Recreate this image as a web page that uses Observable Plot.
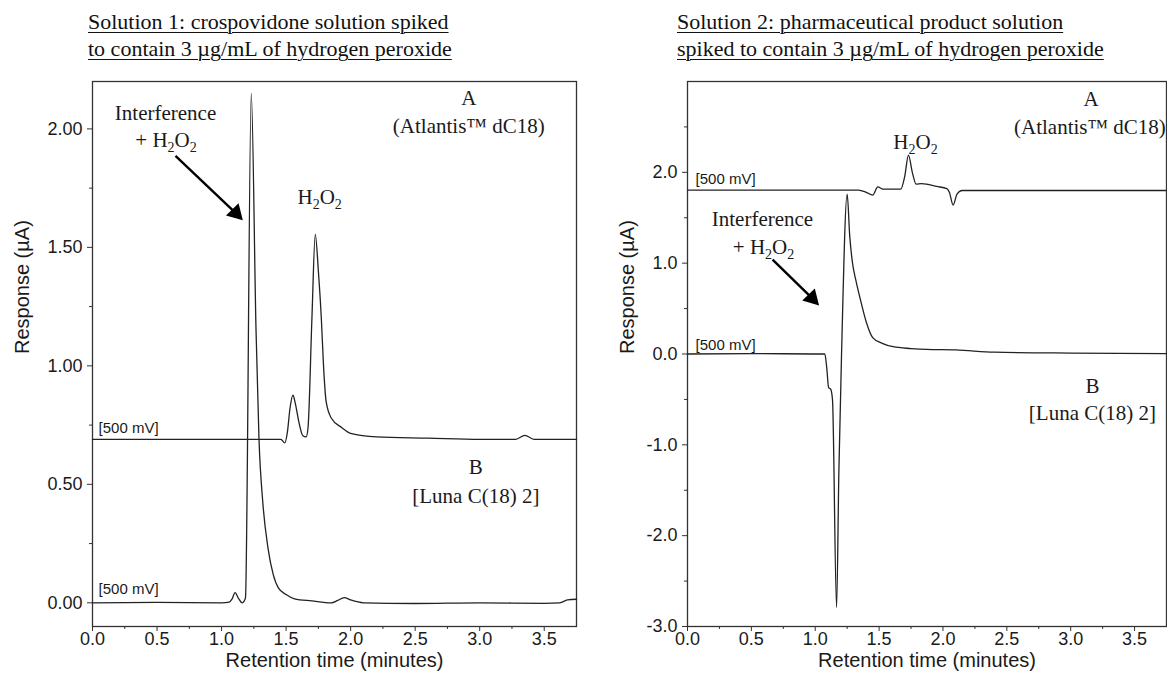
<!DOCTYPE html>
<html>
<head>
<meta charset="utf-8">
<script src="https://cdn.jsdelivr.net/npm/d3@7"></script>
<script src="https://cdn.jsdelivr.net/npm/@observablehq/plot@0.6"></script>
<style>
  html, body { margin: 0; padding: 0; background: #fff; }
  #wrap { position: relative; width: 1167px; height: 681px; overflow: hidden; background: #fff; }
  .panel { position: absolute; top: 0; }
  .title { height: 70px; box-sizing: border-box; font-family: "Liberation Serif", "Times New Roman", serif; font-size: 22px; line-height: 27px; color: #111; text-decoration: underline; text-underline-offset: 3px; text-decoration-thickness: 1px; padding-top: 8px; white-space: nowrap; }
  .panel svg { display: block; }
</style>
</head>
<body>
<div id="wrap">
  <div class="panel" id="p1" style="left:0px;width:583px;">
    <div class="title" style="padding-left:88px;">Solution 1: crospovidone solution spiked<br>to contain 3 µg/mL of hydrogen peroxide</div>
  </div>
  <div class="panel" id="p2" style="left:583px;width:584px;">
    <div class="title" style="padding-left:94px;">Solution 2: pharmaceutical product solution<br>spiked to contain 3 µg/mL of hydrogen peroxide</div>
  </div>
</div>
<script>
// ---------- Data: Solution 1 (left) ----------
const s1A_time = [0, 1.46, 1.49, 1.51, 1.53, 1.553, 1.57, 1.60, 1.63, 1.655, 1.67, 1.70, 1.726, 1.75, 1.773, 1.79, 1.81, 1.85, 1.93, 2.0, 2.2, 2.6, 3.0, 3.28, 3.35, 3.42, 3.75];
const s1A_resp = [0.69, 0.69, 0.675, 0.72, 0.82, 0.876, 0.845, 0.76, 0.705, 0.70, 0.74, 1.2, 1.555, 1.40, 1.2, 1.0, 0.85, 0.78, 0.74, 0.715, 0.70, 0.695, 0.69, 0.69, 0.707, 0.69, 0.69];
const s1B_time = [0, 0.5, 1.0, 1.06, 1.08, 1.105, 1.13, 1.16, 1.185, 1.23, 1.267, 1.29, 1.32, 1.36, 1.40, 1.44, 1.50, 1.565, 1.7, 1.85, 1.90, 1.95, 2.0, 2.1, 2.5, 3.0, 3.5, 3.62, 3.68, 3.75];
const s1B_resp = [0, 0.002, 0, 0.003, 0.015, 0.043, 0.02, 0.0, 0.02, 2.15, 1.15, 0.69, 0.42, 0.23, 0.12, 0.063, 0.035, 0.017, 0.008, 0.0, 0.01, 0.022, 0.012, 0.0, -0.003, 0.0, -0.002, 0.0, 0.012, 0.015];

// ---------- Data: Solution 2 (right) ----------
const s2A_time = [0, 1.0, 1.34, 1.40, 1.45, 1.49, 1.53, 1.60, 1.67, 1.70, 1.73, 1.76, 1.79, 1.83, 1.87, 1.95, 2.03, 2.05, 2.08, 2.11, 2.15, 2.5, 3.0, 3.75];
const s2A_resp = [1.805, 1.805, 1.805, 1.78, 1.75, 1.84, 1.815, 1.815, 1.815, 1.95, 2.19, 2.0, 1.87, 1.875, 1.87, 1.845, 1.82, 1.78, 1.64, 1.76, 1.80, 1.80, 1.80, 1.80];
const s2B_time = [0, 0.5, 1.0, 1.075, 1.09, 1.105, 1.12, 1.135, 1.167, 1.185, 1.206, 1.25, 1.27, 1.29, 1.32, 1.35, 1.40, 1.45, 1.52, 1.61, 1.75, 1.87, 2.1, 2.4, 3.0, 3.75];
const s2B_resp = [0, 0.005, 0.0, 0.0, -0.15, -0.37, -0.385, -0.5, -2.79, -1.3, 0.0, 1.76, 1.3, 1.02, 0.80, 0.62, 0.35, 0.18, 0.12, 0.08, 0.06, 0.05, 0.045, 0.02, 0.01, 0.005];

// ---------- Axis ticks ----------
const xTicks = [0, 0.5, 1.0, 1.5, 2.0, 2.5, 3.0, 3.5];
const xMinorTicks = [0.25, 0.75, 1.25, 1.75, 2.25, 2.75, 3.25];
const y1Ticks = [0, 0.5, 1.0, 1.5, 2.0];
const y1MinorTicks = [0.25, 0.75, 1.25, 1.75];
const y2Ticks = [-3, -2, -1, 0, 1, 2];
const y2MinorTicks = [-2.5, -1.5, -0.5, 0.5, 1.5, 2.5];

// ---------- Annotations (data units) ----------
const s1Serif = [
  {text: "Interference", x: 0.566, y: 2.065},
  {text: "+ H2O2", x: 0.57, y: 1.95},
  {text: "H2O2", x: 1.76, y: 1.71},
  {text: "A", x: 2.915, y: 2.13},
  {text: "(Atlantis™ dC18)", x: 2.915, y: 2.01},
  {text: "B", x: 2.97, y: 0.57},
  {text: "[Luna C(18) 2]", x: 2.97, y: 0.45}
];
const s1Scale = [
  {text: "[500 mV]", x: 0.047, y: 0.738},
  {text: "[500 mV]", x: 0.047, y: 0.059}
];
const s1Arrow = [{x1: 0.643, y1: 1.886, x2: 1.11, y2: 1.645}];

const s2Serif = [
  {text: "Interference", x: 0.587, y: 1.478},
  {text: "+ H2O2", x: 0.595, y: 1.18},
  {text: "H2O2", x: 1.785, y: 2.33},
  {text: "A", x: 3.16, y: 2.80},
  {text: "B", x: 3.17, y: -0.35},
  {text: "[Luna C(18) 2]", x: 3.17, y: -0.65}
];
const s2SerifEnd = [{text: "(Atlantis™ dC18)", x: 3.745, y: 2.50}];
const s2Scale = [
  {text: "[500 mV]", x: 0.063, y: 1.92},
  {text: "[500 mV]", x: 0.063, y: 0.10}
];
const s2Arrow = [{x1: 0.666, y1: 1.04, x2: 0.975, y2: 0.615}];

const xLabel = "Retention time (minutes)";
const yLabel = "Response (µA)";

const toRows = (t, v) => t.map((d, i) => ({t: d, v: v[i]}));

const SERIF = "Liberation Serif, Times New Roman, serif";
const SANS = "Liberation Sans, Arial, sans-serif";
const INK = "#1a1a1a";

function panel({width, marginLeft, marginRight, yDomain, yTicks, yMinor, yFmt, lines, serif, serifEnd, scales, arrows, yLabelDx}) {
  return Plot.plot({
    width, height: 611,
    marginLeft, marginRight, marginTop: 11, marginBottom: 55,
    x: {domain: [0, 3.75]},
    y: {domain: yDomain},
    style: {fontFamily: SANS, fontSize: "18px", color: "#333", background: "white", overflow: "visible"},
    marks: [
      Plot.axisX(xTicks, {tickFormat: d => d.toFixed(1), tickSize: 5, tickPadding: 1, label: null, fontSize: 18, fill: INK}),
      Plot.axisX(xMinorTicks, {tickFormat: () => "", tickSize: 3, label: null}),
      Plot.axisY(yTicks, {tickFormat: yFmt, tickSize: 5, tickPadding: 5, label: null, fontSize: 18, fill: INK}),
      Plot.axisY(yMinor, {tickFormat: () => "", tickSize: 3, label: null}),
      Plot.frame({stroke: "#333", strokeWidth: 1.3}),
      Plot.text([xLabel], {frameAnchor: "bottom", dy: 40, fontSize: 20, fontFamily: SANS, fill: INK}),
      Plot.text([yLabel], {frameAnchor: "left", rotate: -90, dx: yLabelDx, fontSize: 20, fontFamily: SANS, fill: INK}),
      ...lines.map(d => Plot.line(d, {x: "t", y: "v", curve: "monotone-x", stroke: "#222", strokeWidth: 1.3, strokeLinejoin: "round"})),
      Plot.text(serif, {x: "x", y: "y", text: "text", fontFamily: SERIF, fontSize: 21, fill: INK}),
      Plot.text(serifEnd, {x: "x", y: "y", text: "text", textAnchor: "end", fontFamily: SERIF, fontSize: 21, fill: INK}),
      Plot.text(scales, {x: "x", y: "y", text: "text", textAnchor: "start", fontFamily: SANS, fontSize: 15, fill: INK}),
      Plot.link(arrows, {x1: "x1", y1: "y1", x2: "x2", y2: "y2", stroke: "#000", strokeWidth: 2.4}),
      Plot.dot(arrows, {x: "x2", y: "y2", symbol: "triangle", r: 6.5, fill: "#000", stroke: "none", rotate: 136})
    ]
  });
}

function subscript(svg) {
  svg.querySelectorAll("text").forEach(t => {
    if (t.children.length === 0 && t.textContent.includes("H2O2")) {
      const s = t.textContent;
      t.textContent = "";
      const ns = "http://www.w3.org/2000/svg";
      const parts = s.split(/(2)/);
      parts.forEach(p => {
        if (p === "") return;
        const ts = document.createElementNS(ns, "tspan");
        ts.textContent = p;
        if (p === "2") { ts.setAttribute("font-size", "14"); ts.setAttribute("dy", "5"); }
        else if (t.lastChild && t.lastChild.textContent === "2") { ts.setAttribute("dy", "-5"); }
        t.appendChild(ts);
      });
    }
  });
}

const left = panel({
  width: 583, marginLeft: 92, marginRight: 7,
  yDomain: [-0.1, 2.2], yTicks: y1Ticks, yMinor: y1MinorTicks, yFmt: d => d.toFixed(2),
  lines: [toRows(s1A_time, s1A_resp), toRows(s1B_time, s1B_resp)],
  serif: s1Serif, serifEnd: [], scales: s1Scale, arrows: s1Arrow, yLabelDx: -70
});
const right = panel({
  width: 584, marginLeft: 104, marginRight: 1,
  yDomain: [-3, 3], yTicks: y2Ticks, yMinor: y2MinorTicks, yFmt: d => d.toFixed(1),
  lines: [toRows(s2A_time, s2A_resp), toRows(s2B_time, s2B_resp)],
  serif: s2Serif, serifEnd: s2SerifEnd, scales: s2Scale, arrows: s2Arrow, yLabelDx: -60
});
subscript(left); subscript(right);
document.getElementById("p1").appendChild(left);
document.getElementById("p2").appendChild(right);
</script>
</body>
</html>
